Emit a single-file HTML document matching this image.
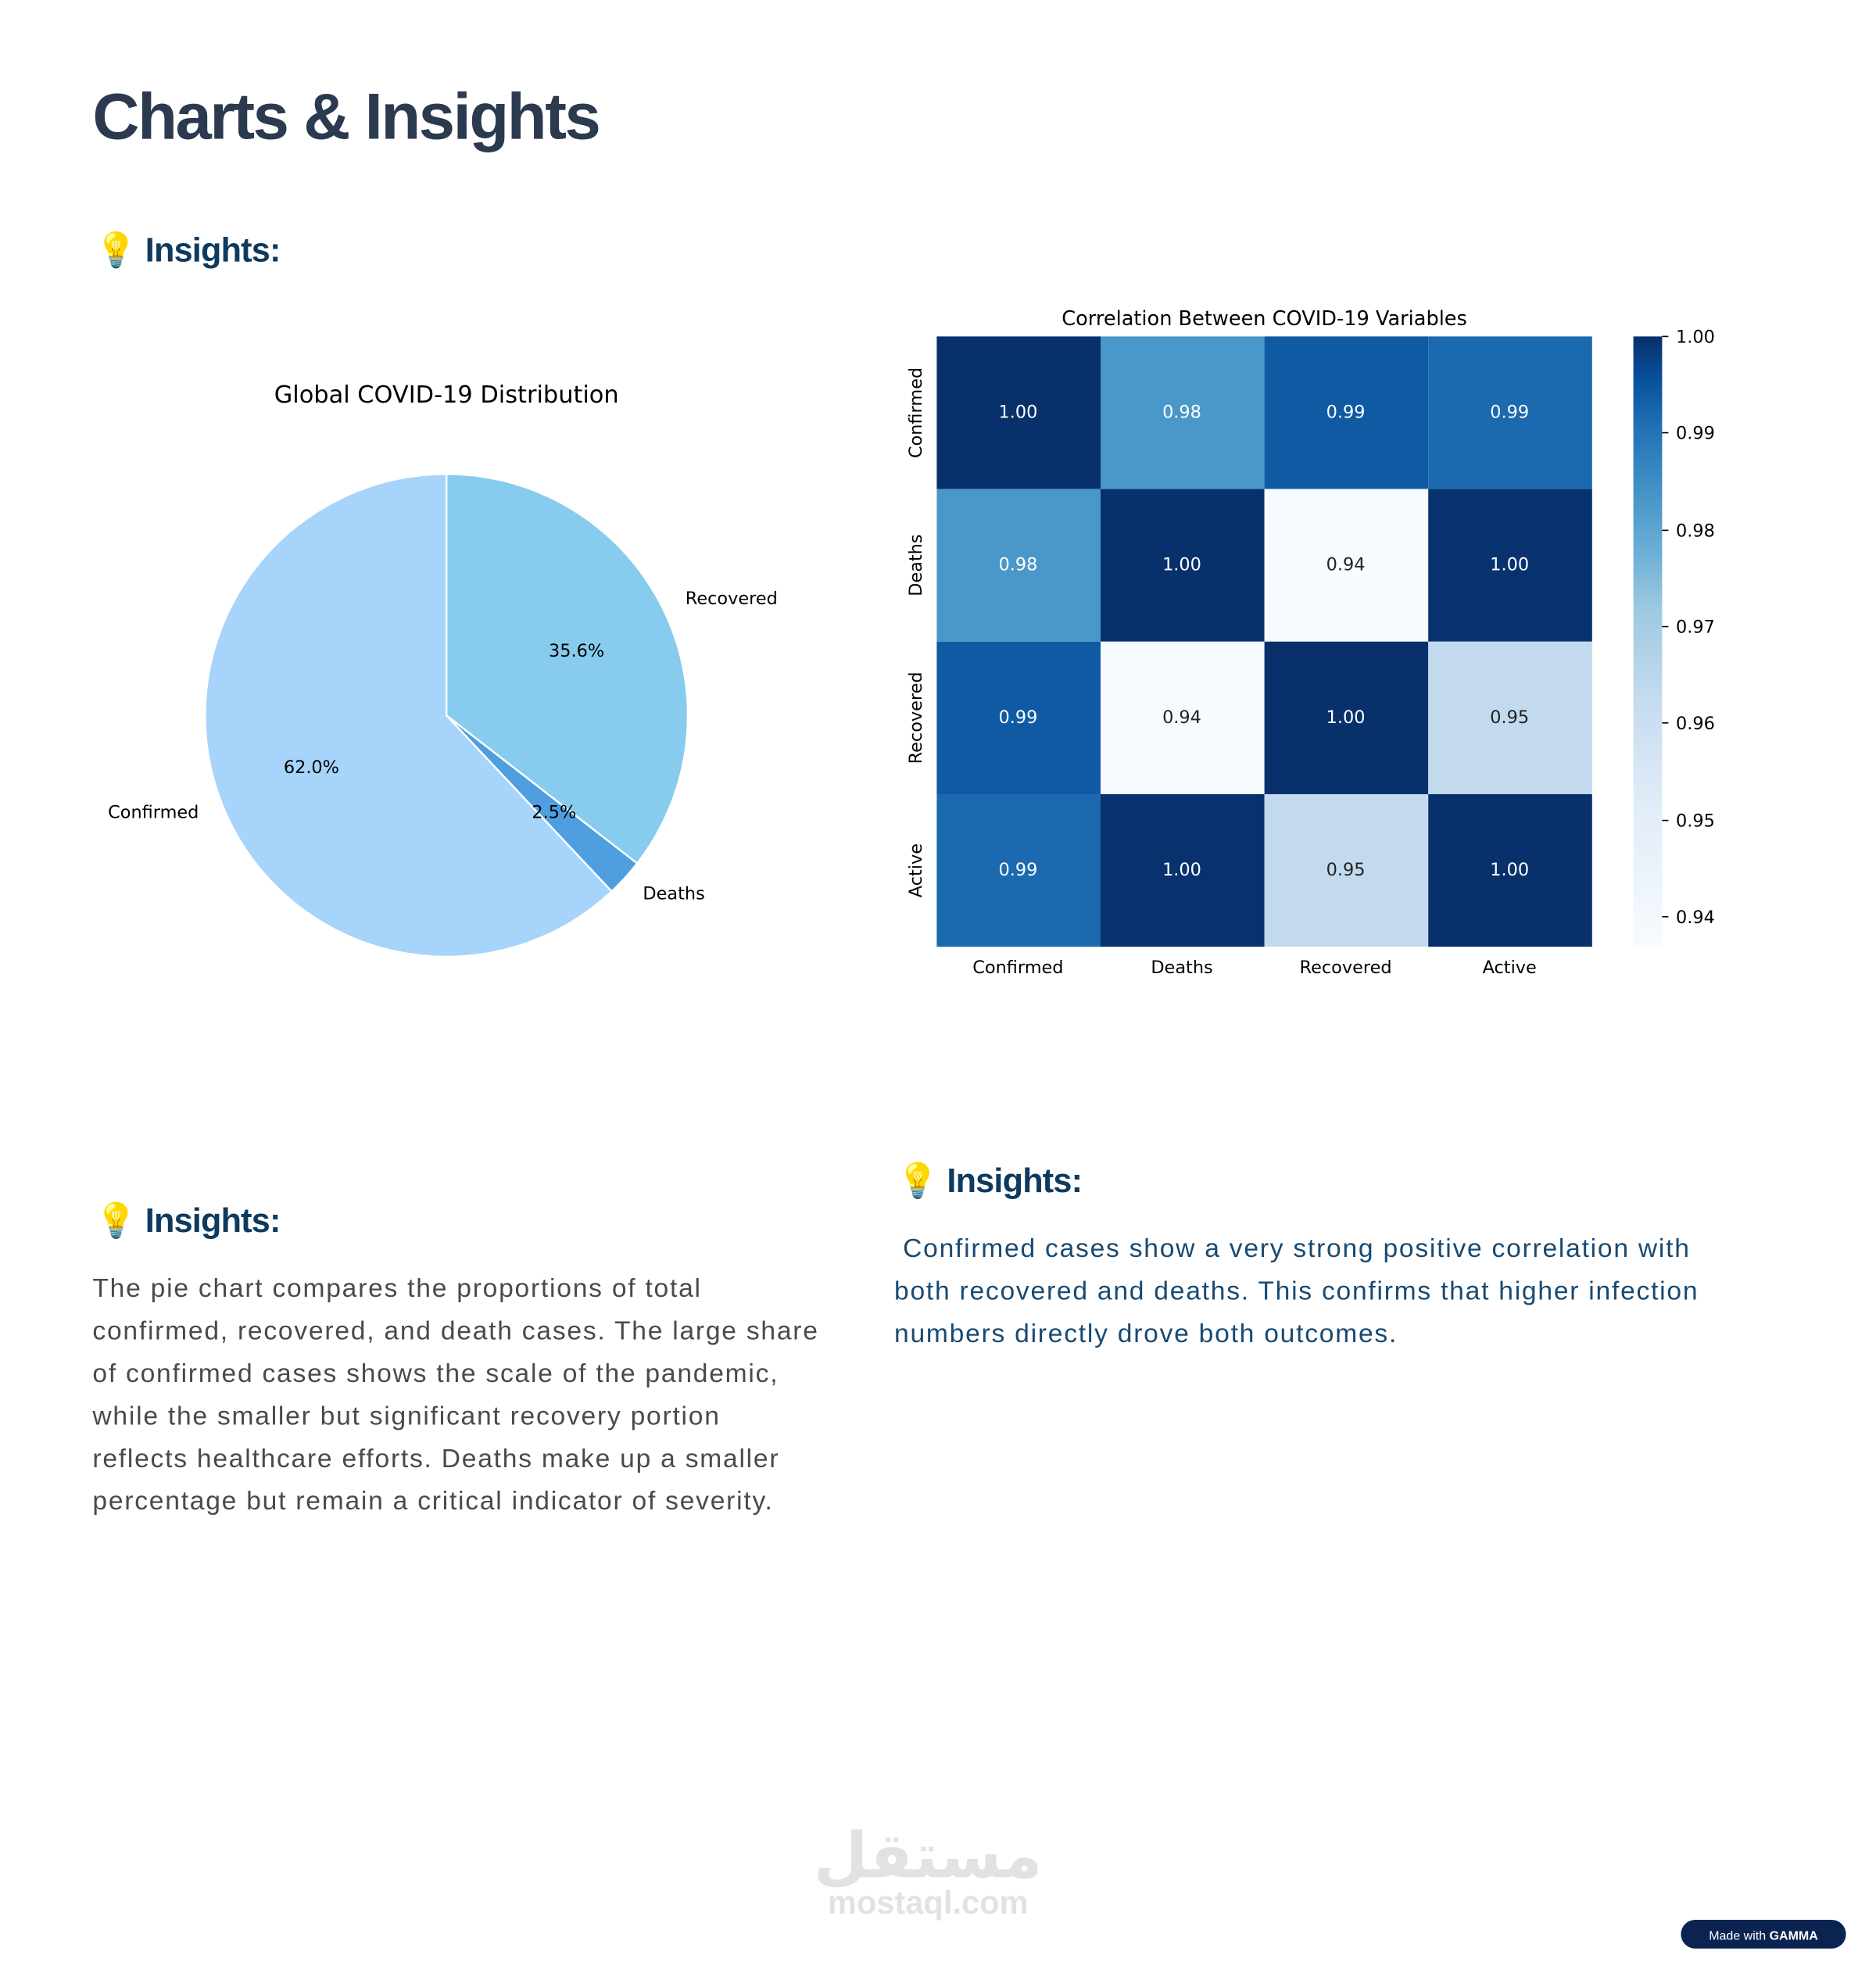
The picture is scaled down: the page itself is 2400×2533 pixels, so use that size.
<!DOCTYPE html>
<html><head><meta charset="utf-8"><style>
html,body{margin:0;padding:0;background:#fff;}
#wrap{width:1500px;height:1583px;transform:scale(1.6);transform-origin:0 0;position:relative;font-family:"Liberation Sans",sans-serif;overflow:hidden;}
.h1{position:absolute;left:74px;top:64px;font-size:52px;font-weight:bold;color:#2b3a4e;letter-spacing:-1.5px;}
.ins{position:absolute;font-size:27px;font-weight:bold;color:#0f3a5f;letter-spacing:-0.5px;}
.p{position:absolute;font-size:21px;line-height:34px;letter-spacing:1.1px;white-space:nowrap;}
</style></head><body><div id="wrap">
<div class="h1">Charts &amp; Insights</div>
<div class="ins" style="left:76px;top:184px">💡 Insights:</div>
<div class="ins" style="left:76px;top:960px">💡 Insights:</div>
<div class="ins" style="left:717px;top:928px">💡 Insights:</div>
<div class="p" style="left:74px;top:1014px;color:#4a4a4a">The pie chart compares the proportions of total<br>confirmed, recovered, and death cases. The large share<br>of confirmed cases shows the scale of the pandemic,<br>while the smaller but significant recovery portion<br>reflects healthcare efforts. Deaths make up a smaller<br>percentage but remain a critical indicator of severity.</div>
<div class="p" style="left:715px;top:982px;color:#184a72">&nbsp;Confirmed cases show a very strong positive correlation with<br>both recovered and deaths. This confirms that higher infection<br>numbers directly drove both outcomes.</div>
<svg style="position:absolute;left:0;top:0" width="1500" height="1583" font-family="DejaVu Sans,sans-serif">
<text x="357" y="322" font-size="19" text-anchor="middle">Global COVID-19 Distribution</text>
<g stroke="#fff" stroke-width="1.5">
<path d="M357,572 L357,379 A193,193 0 1 0 489.1,712.7 Z" fill="#a6d4fa"/>
<path d="M357,572 L489.1,712.7 A193,193 0 0 0 509.5,690.3 Z" fill="#4f9ee0"/>
<path d="M357,572 L509.5,690.3 A193,193 0 0 0 357,379 Z" fill="#87cbef"/>
</g>
<g font-size="14">
<text x="461" y="525" text-anchor="middle">35.6%</text>
<text x="249" y="618" text-anchor="middle">62.0%</text>
<text x="443" y="654" text-anchor="middle">2.5%</text>
<text x="548" y="483">Recovered</text>
<text x="159" y="654" text-anchor="end">Confirmed</text>
<text x="514" y="719">Deaths</text>
</g>
<text x="1011" y="260" font-size="16" text-anchor="middle">Correlation Between COVID-19 Variables</text>
<g>
<rect x="749" y="269" width="131" height="122" fill="#08306b"/>
<rect x="880" y="269" width="131" height="122" fill="#4a98c9"/>
<rect x="1011" y="269" width="131" height="122" fill="#0f5aa3"/>
<rect x="1142" y="269" width="131" height="122" fill="#1b69af"/>
<rect x="749" y="391" width="131" height="122" fill="#4a98c9"/>
<rect x="880" y="391" width="131" height="122" fill="#08306b"/>
<rect x="1011" y="391" width="131" height="122" fill="#f7fbff"/>
<rect x="1142" y="391" width="131" height="122" fill="#08326e"/>
<rect x="749" y="513" width="131" height="122" fill="#0f5aa3"/>
<rect x="880" y="513" width="131" height="122" fill="#f7fbff"/>
<rect x="1011" y="513" width="131" height="122" fill="#08306b"/>
<rect x="1142" y="513" width="131" height="122" fill="#c3daee"/>
<rect x="749" y="635" width="131" height="122" fill="#1b69af"/>
<rect x="880" y="635" width="131" height="122" fill="#08326e"/>
<rect x="1011" y="635" width="131" height="122" fill="#c3daee"/>
<rect x="1142" y="635" width="131" height="122" fill="#08306b"/>
</g>
<g font-size="14" text-anchor="middle" fill="#fff">
<text x="814" y="334">1.00</text><text x="945" y="334">0.98</text><text x="1076" y="334">0.99</text><text x="1207" y="334">0.99</text>
<text x="814" y="456">0.98</text><text x="945" y="456">1.00</text><text x="1076" y="456" fill="#222">0.94</text><text x="1207" y="456">1.00</text>
<text x="814" y="578">0.99</text><text x="945" y="578" fill="#222">0.94</text><text x="1076" y="578">1.00</text><text x="1207" y="578" fill="#222">0.95</text>
<text x="814" y="700">0.99</text><text x="945" y="700">1.00</text><text x="1076" y="700" fill="#222">0.95</text><text x="1207" y="700">1.00</text>
</g>
<g font-size="14" text-anchor="middle">
<text x="814" y="778">Confirmed</text><text x="945" y="778">Deaths</text><text x="1076" y="778">Recovered</text><text x="1207" y="778">Active</text>
<text transform="translate(737,330) rotate(-90)">Confirmed</text>
<text transform="translate(737,452) rotate(-90)">Deaths</text>
<text transform="translate(737,574) rotate(-90)">Recovered</text>
<text transform="translate(737,696) rotate(-90)">Active</text>
</g>
<defs><linearGradient id="cb" x1="0" y1="1" x2="0" y2="0">
<stop offset="0" stop-color="#f7fbff"/><stop offset="0.25" stop-color="#deebf7"/><stop offset="0.4" stop-color="#c6dbef"/><stop offset="0.55" stop-color="#9ecae1"/><stop offset="0.65" stop-color="#6baed6"/><stop offset="0.75" stop-color="#4292c6"/><stop offset="0.85" stop-color="#2171b5"/><stop offset="0.93" stop-color="#08519c"/><stop offset="1" stop-color="#08306b"/></linearGradient></defs>
<rect x="1306" y="269" width="23" height="488" fill="url(#cb)"/>
<g font-size="14" stroke="#000">
<line x1="1329" y1="269" x2="1334" y2="269"/><line x1="1329" y1="346" x2="1334" y2="346"/><line x1="1329" y1="424" x2="1334" y2="424"/><line x1="1329" y1="501" x2="1334" y2="501"/><line x1="1329" y1="578" x2="1334" y2="578"/><line x1="1329" y1="656" x2="1334" y2="656"/><line x1="1329" y1="733" x2="1334" y2="733"/>
</g>
<g font-size="14">
<text x="1340" y="274">1.00</text><text x="1340" y="351">0.99</text><text x="1340" y="429">0.98</text><text x="1340" y="506">0.97</text><text x="1340" y="583">0.96</text><text x="1340" y="661">0.95</text><text x="1340" y="738">0.94</text>
</g>
<text x="742" y="1501" font-size="50" font-weight="bold" fill="#e2e2e2" text-anchor="middle" font-family="DejaVu Sans,sans-serif">مستقل</text>
<text x="742" y="1530" font-size="26" font-weight="bold" fill="#e2e2e2" text-anchor="middle" font-family="Liberation Sans,sans-serif">mostaql.com</text>
<rect x="1344" y="1535" width="132" height="23" rx="11.5" fill="#0b2350"/>
<text x="1410" y="1551" font-size="10" fill="#fff" text-anchor="middle" font-family="Liberation Sans,sans-serif">Made with <tspan font-weight="bold">GAMMA</tspan></text>
</svg>
</div></body></html>
